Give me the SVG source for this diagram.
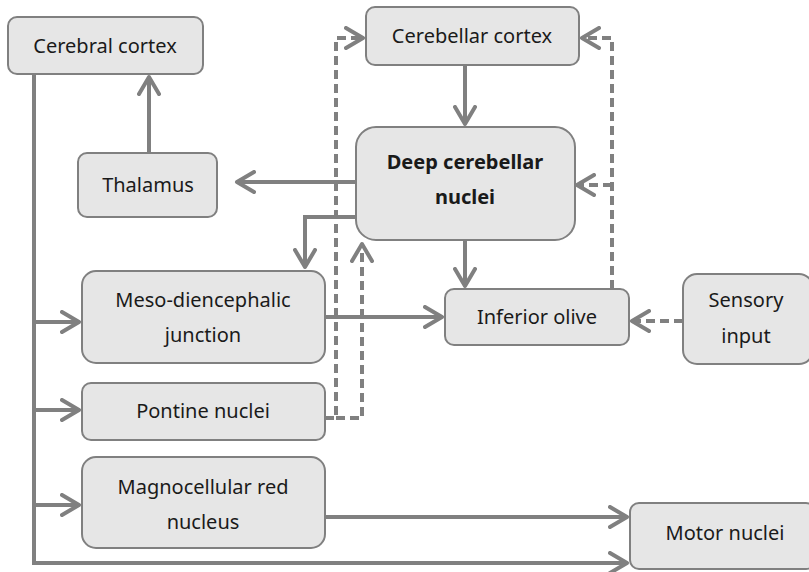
<svg xmlns="http://www.w3.org/2000/svg" width="809" height="572" viewBox="0 0 809 572">
<defs>
<style>
.box{fill:#e6e6e6;stroke:#808080;stroke-width:2}
.t{font-family:"Noto Sans","Liberation Sans",sans-serif;font-size:20px;fill:#1a1a1a;text-anchor:middle}
.b{font-weight:bold}
.c{fill:none;stroke:#808080;stroke-width:4;stroke-linejoin:miter}
.d{stroke-dasharray:9 5}
</style>
<marker id="a" viewBox="0 0 22 24" markerWidth="22" markerHeight="24" refX="19" refY="12" orient="auto" markerUnits="userSpaceOnUse">
<path d="M2,2 L19,12 L2,22" fill="none" stroke="#808080" stroke-width="4" stroke-linecap="round" stroke-linejoin="round"/>
</marker>
</defs>
<rect width="809" height="572" fill="#fff"/>
<g id="connectors">
<path class="c" d="M149,153 V77" marker-end="url(#a)"/>
<path class="c" d="M465,65 V124" marker-end="url(#a)"/>
<path class="c" d="M356,182 H237" marker-end="url(#a)"/>
<path class="c" d="M356,217 H305 V267" marker-end="url(#a)"/>
<path class="c" d="M465,240 V286" marker-end="url(#a)"/>
<path class="c" d="M325,317 H442" marker-end="url(#a)"/>
<path class="c" d="M325,517 H627" marker-end="url(#a)"/>
<path class="c" d="M34,74 V563 H627" marker-end="url(#a)"/>
<path class="c" d="M34,322 H79" marker-end="url(#a)"/>
<path class="c" d="M34,410 H79" marker-end="url(#a)"/>
<path class="c" d="M34,505 H79" marker-end="url(#a)"/>
<path class="c d" d="M325,418 H336 V38 H363" marker-end="url(#a)"/>
<path class="c d" d="M336,418 H362 V244" marker-end="url(#a)"/>
<path class="c d" d="M612,289 V38 H582" marker-end="url(#a)"/>
<path class="c d" d="M612,185 H577" marker-end="url(#a)"/>
<path class="c d" d="M683,321 H632" marker-end="url(#a)"/>
</g>
<g id="cerebral-cortex"><rect class="box" x="8" y="17" width="195" height="57" rx="9"/><text class="t" x="105" y="53">Cerebral cortex</text></g>
<g id="cerebellar-cortex"><rect class="box" x="366" y="7" width="213" height="58" rx="9"/><text class="t" x="472" y="43">Cerebellar cortex</text></g>
<g id="deep-cerebellar-nuclei"><rect class="box" x="356" y="127" width="219" height="113" rx="20"/><text class="t b" x="465" y="169">Deep cerebellar</text><text class="t b" x="465" y="204">nuclei</text></g>
<g id="thalamus"><rect class="box" x="78" y="153" width="139" height="64" rx="9"/><text class="t" x="148" y="192">Thalamus</text></g>
<g id="meso-diencephalic-junction"><rect class="box" x="82" y="271" width="243" height="92" rx="14"/><text class="t" x="203" y="307">Meso-diencephalic</text><text class="t" x="203" y="342">junction</text></g>
<g id="pontine-nuclei"><rect class="box" x="82" y="383" width="243" height="57" rx="9"/><text class="t" x="203" y="418">Pontine nuclei</text></g>
<g id="inferior-olive"><rect class="box" x="445" y="289" width="184" height="56" rx="9"/><text class="t" x="537" y="324">Inferior olive</text></g>
<g id="sensory-input"><rect class="box" x="683" y="274" width="130" height="90" rx="14"/><text class="t" x="746" y="307">Sensory</text><text class="t" x="746" y="343">input</text></g>
<g id="magnocellular-red-nucleus"><rect class="box" x="82" y="457" width="243" height="91" rx="14"/><text class="t" x="203" y="494">Magnocellular red</text><text class="t" x="203" y="529">nucleus</text></g>
<g id="motor-nuclei"><rect class="box" x="630" y="503" width="185" height="66" rx="9"/><text class="t" x="725" y="540">Motor nuclei</text></g>
</svg>
